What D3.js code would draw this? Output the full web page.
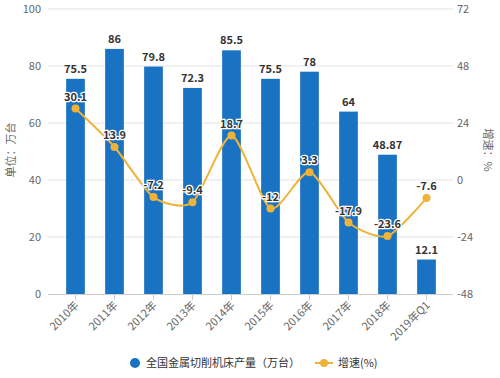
<!DOCTYPE html>
<html>
<head>
<meta charset="utf-8">
<script src="https://cdn.jsdelivr.net/npm/d3@7"></script>
<style>
  body { margin: 0; background: #fff; }
  svg { display: block; font-family: "Noto Sans CJK SC", "Noto Sans", sans-serif; }
</style>
</head>
<body>
<svg id="chart" width="500" height="378"></svg>
<script>
const years = ["2010年", "2011年", "2012年", "2013年", "2014年", "2015年", "2016年", "2017年", "2018年", "2019年Q1"];
const output = [75.5, 86, 79.8, 72.3, 85.5, 75.5, 78, 64, 48.87, 12.1];
const growth = [30.1, 13.9, -7.2, -9.4, 18.7, -12, 3.3, -17.9, -23.6, -7.6];
const leftTicks = [0, 20, 40, 60, 80, 100];
const rightTicks = [-48, -24, 0, 24, 48, 72];

const barColor = "#1a73c2";
const lineColor = "#eeb338";

const svg = d3.select("#chart");
const plotLeft = 48, plotRight = 453, plotTop = 9, plotBottom = 294;

const x = d3.scaleBand()
  .domain(years)
  .range([56, 446])
  .paddingInner(0.52)
  .paddingOuter(0.26);

const yL = d3.scaleLinear().domain([0, 100]).range([plotBottom, plotTop]);
const yR = d3.scaleLinear().domain([-48, 72]).range([plotBottom, plotTop]);

// gridlines
svg.append("g")
  .selectAll("line")
  .data(leftTicks.slice(1))
  .join("line")
  .attr("x1", plotLeft).attr("x2", plotRight)
  .attr("y1", d => yL(d)).attr("y2", d => yL(d))
  .attr("stroke", "#e3e3e3").attr("stroke-width", 1);

// left axis labels
svg.append("g")
  .selectAll("text")
  .data(leftTicks)
  .join("text")
  .attr("x", 41).attr("y", d => yL(d) + 4)
  .attr("text-anchor", "end")
  .attr("font-size", 11).attr("fill", "#666")
  .text(d => d);

// right axis labels
svg.append("g")
  .selectAll("text")
  .data(rightTicks)
  .join("text")
  .attr("x", 457).attr("y", d => yR(d) + 4)
  .attr("text-anchor", "start")
  .attr("font-size", 11).attr("fill", "#666")
  .text(d => d);

// axis titles
svg.append("text")
  .attr("transform", "translate(15,150) rotate(-90)")
  .attr("text-anchor", "middle")
  .attr("font-size", 11).attr("fill", "#666")
  .text("单位：万台");

svg.append("text")
  .attr("transform", "translate(484,150) rotate(90)")
  .attr("text-anchor", "middle")
  .attr("font-size", 11).attr("fill", "#666")
  .text("增速：%");

// bars
svg.append("g")
  .selectAll("rect")
  .data(output)
  .join("rect")
  .attr("x", (d, i) => x(years[i]))
  .attr("y", d => yL(d))
  .attr("width", x.bandwidth())
  .attr("height", d => plotBottom - yL(d))
  .attr("fill", barColor);

// x axis
svg.append("line")
  .attr("x1", plotLeft).attr("x2", plotRight)
  .attr("y1", plotBottom + 0.5).attr("y2", plotBottom + 0.5)
  .attr("stroke", "#ccc");

const xa = svg.append("g");
xa.selectAll("line")
  .data(years)
  .join("line")
  .attr("x1", d => x(d) + x.bandwidth() / 2)
  .attr("x2", d => x(d) + x.bandwidth() / 2)
  .attr("y1", plotBottom).attr("y2", plotBottom + 6)
  .attr("stroke", "#ccc");

xa.selectAll("text")
  .data(years)
  .join("text")
  .attr("transform", d => `translate(${x(d) + x.bandwidth() / 2 + 4},${plotBottom + 12}) rotate(-45)`)
  .attr("text-anchor", "end")
  .attr("font-size", 11).attr("fill", "#666")
  .text(d => d);

// bar labels
svg.append("g")
  .selectAll("text")
  .data(output)
  .join("text")
  .attr("x", (d, i) => x(years[i]) + x.bandwidth() / 2)
  .attr("y", d => yL(d) - 6)
  .attr("text-anchor", "middle")
  .attr("font-size", 11).attr("font-weight", "bold").attr("fill", "#333")
  .text(d => d);

// growth line
const cx = i => x(years[i]) + x.bandwidth() / 2;
const line = d3.line()
  .x((d, i) => cx(i))
  .y(d => yR(d))
  .curve(d3.curveCardinal.tension(0.3));

svg.append("path")
  .datum(growth)
  .attr("d", line)
  .attr("fill", "none")
  .attr("stroke", lineColor)
  .attr("stroke-width", 2);

svg.append("g")
  .selectAll("circle")
  .data(growth)
  .join("circle")
  .attr("cx", (d, i) => cx(i))
  .attr("cy", d => yR(d))
  .attr("r", 4)
  .attr("fill", lineColor);

svg.append("g")
  .selectAll("text")
  .data(growth)
  .join("text")
  .attr("x", (d, i) => cx(i))
  .attr("y", d => yR(d) - 8)
  .attr("text-anchor", "middle")
  .attr("font-size", 11).attr("font-weight", "bold").attr("fill", "#333")
  .attr("stroke", "#fff").attr("stroke-width", 2.5)
  .attr("paint-order", "stroke")
  .text(d => d);

// legend
const lg = svg.append("g").attr("font-size", 11).attr("fill", "#333");
lg.append("circle").attr("cx", 135).attr("cy", 363).attr("r", 5).attr("fill", barColor);
lg.append("text").attr("x", 146).attr("y", 367).text("全国金属切削机床产量（万台）");
lg.append("line").attr("x1", 315).attr("x2", 333).attr("y1", 363).attr("y2", 363)
  .attr("stroke", lineColor).attr("stroke-width", 2);
lg.append("circle").attr("cx", 324).attr("cy", 363).attr("r", 4).attr("fill", lineColor);
lg.append("text").attr("x", 338).attr("y", 367).text("增速(%)");
</script>
</body>
</html>
